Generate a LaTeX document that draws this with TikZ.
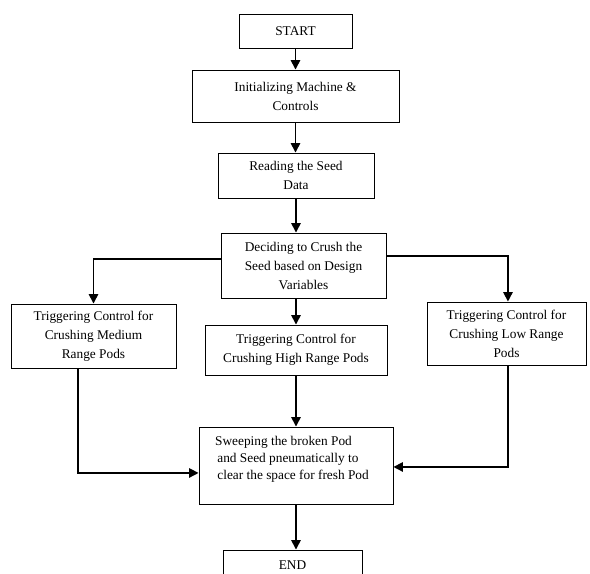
\documentclass[tikz,border=0pt]{standalone}
\usepackage{fontspec}
\setmainfont{Liberation Serif}
\usetikzlibrary{positioning,calc,arrows.meta}

\begin{document}
\begin{tikzpicture}[x=0.75pt,y=-0.75pt,
    box/.style={draw, line width=0.7pt, inner sep=0pt, align=center,
        font=\fontsize{10}{14.25}\selectfont},
    flow/.style={-{Triangle[length=7pt,width=7pt]}, line width=1.1pt}]
    \useasboundingbox (0,0) rectangle (590,574);
    \clip (0,0) rectangle (590,574);

    % Steps
    \node[box, minimum width=84.75pt, minimum height=25.5pt] (start) at (295.5,31) {START};
    \node[box, minimum width=155.25pt, minimum height=39pt] (init) at (295.5,96)
        {Initializing Machine \&\\ Controls};
    \node[box, minimum width=117pt, minimum height=33.75pt] (read) at (296,175.5)
        {Reading the Seed\\ Data};
    \node[box, minimum width=123.75pt, minimum height=48.75pt] (decide) at (303.5,265.5)
        {Deciding to Crush the\\ Seed based on Design\\ Variables};

    % Crushing controls
    \node[box, minimum width=123.75pt, minimum height=48pt] (medium) at (93.5,336)
        {Triggering Control for\\ Crushing Medium\\ Range Pods};
    \node[box, minimum width=136.5pt, minimum height=37.5pt] (high) at (296,350)
        {Triggering Control for\\ Crushing High Range Pods};
    \node[box, minimum width=119.25pt, minimum height=47.25pt] (low) at (506.5,333.5)
        {Triggering Control for\\ Crushing Low Range\\ Pods};

    % Sweeping and end
    \node[box, minimum width=145.5pt, minimum height=57.75pt] (sweep) at (296,465.5) {};
    \node[align=left, inner sep=0pt, font=\fontsize{10}{12.75}\selectfont]
        (sweeptext) at (292,459)
        {Sweeping the broken Pod\\ \,and Seed pneumatically to\\ \,clear the space for fresh Pod};
    \node[box, minimum width=104.25pt, minimum height=22.5pt] (end) at (292.5,565) {END};

    % Connectors
    \draw[flow] (start) -- (init);
    \draw[flow] (init.south) -- (init.south |- read.north);
    \draw[flow] (read.south) -- (read.south |- decide.north);
    \draw[flow] ([yshift=4.9pt]decide.west) -| (medium.north);
    \draw[flow] (high.north |- decide.south) -- (high.north);
    \draw[flow] ([yshift=7pt]decide.east) -| ([xshift=1.1pt]low.north);
    \draw[flow] ([xshift=-11.6pt]medium.south) |- ([yshift=-5.6pt]sweep.west);
    \draw[flow] (high) -- (sweep);
    \draw[flow] ([xshift=1.1pt]low.south) |- ([yshift=-1.1pt]sweep.east);
    \draw[flow] (sweep.south) -- (sweep.south |- end.north);
\end{tikzpicture}
\end{document}
